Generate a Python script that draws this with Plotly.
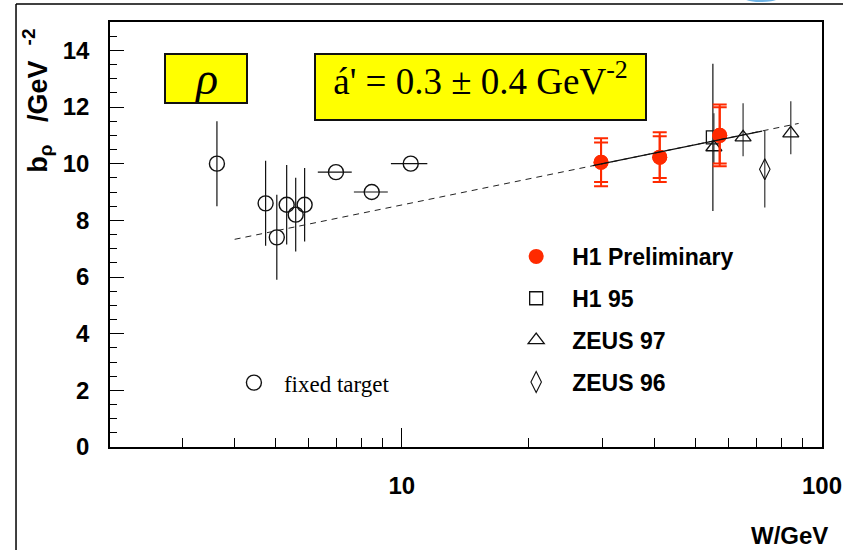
import plotly.graph_objects as go

# ---- measurements: rho slope parameter b vs W ----
# fixed-target data (first six with vertical errors, last three with W bins)
ft_W = [3.63, 4.74, 5.04, 5.32, 5.59, 5.87, 6.97, 8.48, 10.5]
ft_b = [10.0, 8.6, 7.4, 8.55, 8.2, 8.55, 9.7, 9.0, 10.0]
ft_db = [1.5, 1.5, 1.5, 1.4, 1.3, 1.3, 0.0, 0.0, 0.0]
ft_W_lo = [3.63, 4.74, 5.04, 5.32, 5.59, 5.87, 6.31, 7.69, 9.42]
ft_W_hi = [3.63, 4.74, 5.04, 5.32, 5.59, 5.87, 7.60, 9.26, 11.5]

# H1 preliminary (statistical and total errors)
h1p_W = [29.8, 41.1, 57.1]
h1p_b = [10.05, 10.23, 11.0]
h1p_stat = [0.70, 0.74, 0.99]
h1p_tot = [0.85, 0.88, 1.09]

# H1 95
h195_W = [55.0]
h195_b = [10.93]
h195_db = [2.6]

# ZEUS 97
z97_W = [55.3, 64.9, 84.3]
z97_b = [10.58, 10.93, 11.07]
z97_up = [1.2, 1.2, 1.13]
z97_dn = [0.56, 0.67, 0.74]

# ZEUS 96
z96_W = [73.1]
z96_b = [9.8]
z96_db = [1.35]

# Regge fit b = b0 + 4 alpha' ln W  (full extent dashed, H1 range solid)
fit_W = [4.0, 88.0]
fit_b = [7.33, 11.42]
fit_solid_W = [28.5, 72.0]
fit_solid_b = [9.93, 11.15]

# axis tick values
y_major = [0, 2, 4, 6, 8, 10, 12, 14]
x_major = [10, 100]
x_minor = [3, 4, 5, 6, 7, 8, 9, 20, 30, 40, 50, 60, 70, 80, 90]

SANS = "Liberation Sans, Arial, Helvetica, sans-serif"
SERIF = "Liberation Serif, Times New Roman, DejaVu Serif, serif"
RED = "#ff2a00"
INK = "#111111"

fig = go.Figure()

fig.add_trace(go.Scatter(
    x=ft_W, y=ft_b, mode="markers", name="fixed target", legend="legend2",
    marker=dict(symbol="circle-open", size=15, color=INK, line=dict(width=1.4, color=INK)),
    error_y=dict(type="data", array=ft_db, color=INK, thickness=1.2, width=0),
    error_x=dict(type="data", array=[h - w for h, w in zip(ft_W_hi, ft_W)],
                 arrayminus=[w - l for w, l in zip(ft_W, ft_W_lo)],
                 color=INK, thickness=1.2, width=0),
))

fig.add_trace(go.Scatter(
    x=h195_W, y=h195_b, mode="markers", name="H1 95", legendgroup="b", legendrank=2,
    marker=dict(symbol="square-open", size=13, color=INK, line=dict(width=1.3, color=INK)),
    error_y=dict(type="data", array=h195_db, color=INK, thickness=1.2, width=0),
))

fig.add_trace(go.Scatter(
    x=z97_W, y=z97_b, mode="markers", name="ZEUS 97", legendgroup="c", legendrank=3,
    marker=dict(symbol="triangle-up-open", size=14, color=INK, line=dict(width=1.3, color=INK)),
    error_y=dict(type="data", symmetric=False, array=z97_up, arrayminus=z97_dn,
                 color="#333333", thickness=1.2, width=0),
))

fig.add_trace(go.Scatter(
    x=z96_W, y=z96_b, mode="markers", name="ZEUS 96", legendgroup="d", legendrank=4,
    marker=dict(symbol="diamond-tall-open", size=15, color=INK, line=dict(width=1.1, color=INK)),
    error_y=dict(type="data", array=z96_db, color="#333333", thickness=1.2, width=0),
))

fig.add_trace(go.Scatter(
    x=h1p_W, y=h1p_b, mode="markers", showlegend=False,
    marker=dict(symbol="circle", size=15, color=RED),
    error_y=dict(type="data", array=h1p_tot, color=RED, thickness=2, width=7),
))
fig.add_trace(go.Scatter(
    x=h1p_W, y=h1p_b, mode="markers", name="H1 Preliminary", legendgroup="a", legendrank=1,
    marker=dict(symbol="circle", size=15, color=RED),
    error_y=dict(type="data", array=h1p_stat, color=RED, thickness=2, width=7),
))

fig.add_trace(go.Scatter(
    x=fit_W, y=fit_b, mode="lines", showlegend=False,
    line=dict(color="#222222", width=1, dash="6px,5px"),
))
fig.add_trace(go.Scatter(
    x=fit_solid_W, y=fit_solid_b, mode="lines", showlegend=False,
    line=dict(color="#111111", width=1.2),
))

fig.update_layout(
    width=843, height=550,
    margin=dict(l=110, r=21, t=22, b=103, autoexpand=False),
    paper_bgcolor="white", plot_bgcolor="white",
    showlegend=True,
    legend=dict(
        x=0.548, y=0.499, xanchor="left", yanchor="top",
        font=dict(family=SANS, size=23, color="black", weight="bold"),
        bgcolor="rgba(0,0,0,0)", traceorder="grouped", tracegroupgap=9,
        itemwidth=62,
    ),
    legend2=dict(
        x=0.16, y=0.202, xanchor="left", yanchor="top",
        font=dict(family=SERIF, size=23, color="black"),
        bgcolor="rgba(0,0,0,0)", itemwidth=50,
    ),
    xaxis=dict(
        type="log", range=[0.3054, 2.0001], automargin=False,
        showgrid=False, zeroline=False,
        showline=True, linecolor="black", linewidth=1.6, mirror=True,
        tickmode="array", tickvals=x_major, ticktext=["10", "100"],
        ticks="inside", ticklen=19, tickwidth=1, tickcolor="black",
        tickfont=dict(family=SANS, size=24, color="black", weight="bold"),
        ticklabelstandoff=16, ticklabeloverflow="allow",
        minor=dict(tickmode="array", tickvals=x_minor, ticks="inside",
                   ticklen=9, tickwidth=1, tickcolor="black", showgrid=False),
    ),
    yaxis=dict(
        range=[0, 15], automargin=False,
        showgrid=False, zeroline=False,
        showline=True, linecolor="black", linewidth=1.6, mirror=True,
        tickmode="array", tickvals=y_major,
        ticks="inside", ticklen=14, tickwidth=1, tickcolor="black",
        tickfont=dict(family=SANS, size=24, color="black", weight="bold"),
        ticklabelstandoff=14,
        minor=dict(dtick=0.5, ticks="inside", ticklen=7, tickwidth=1,
                   tickcolor="black", showgrid=False),
    ),
)

annotations = [
    dict(text="b<sub>ρ</sub>\u00a0\u00a0\u00a0/GeV\u00a0\u00a0<sup>-2</sup>", textangle=-90,
         xref="paper", yref="paper", x=-0.1025, y=0.815, xanchor="center", yanchor="middle",
         showarrow=False, font=dict(family=SANS, size=27, color="black", weight="bold")),
    dict(text="W/GeV", xref="paper", yref="paper", x=0.955, y=-0.209,
         xanchor="center", yanchor="middle", showarrow=False,
         font=dict(family=SANS, size=24, color="black", weight="bold")),
    dict(text="<i>ρ</i>", xref="paper", yref="paper", x=0.1355, y=0.866,
         xanchor="center", yanchor="middle", showarrow=False,
         width=80, height=47, bgcolor="#ffff00", bordercolor="#111111", borderwidth=2, borderpad=0,
         font=dict(family=SERIF, size=46, color="black")),
    dict(text="á' = 0.3 ± 0.4 GeV<sup>-2</sup>", xref="paper", yref="paper", x=0.5197, y=0.846,
         xanchor="center", yanchor="middle", showarrow=False, valign="top",
         width=329, height=64, bgcolor="#ffff00", bordercolor="#111111", borderwidth=2, borderpad=0,
         font=dict(family=SERIF, size=37, color="black")),
]
fig.update_layout(annotations=annotations)

# page frame and corner decoration
fig.add_shape(type="line", xref="paper", yref="paper",
              x0=-0.132, x1=1.03, y0=1.0424, y1=1.0424, line=dict(color="black", width=1.5))
fig.add_shape(type="line", xref="paper", yref="paper",
              x0=-0.132, x1=-0.132, y0=1.0424, y1=-0.25, line=dict(color="black", width=1.5))
fig.add_shape(type="circle", xref="paper", yref="paper",
              x0=0.878, x1=0.951, y0=1.047, y1=1.10, line=dict(width=0), fillcolor="#6fb4e6")

fig.write_html("out.html")
